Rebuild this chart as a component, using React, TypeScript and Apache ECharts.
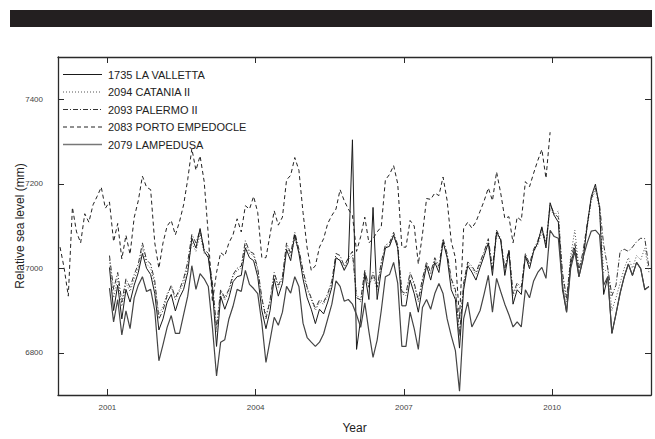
import { useEffect, useRef } from "react";
import * as echarts from "echarts";

const xTicks = [2001, 2004, 2007, 2010];
const yTicks = [6800, 7000, 7200, 7400];

const names = [
  "1735 LA VALLETTA",
  "2094 CATANIA II",
  "2093 PALERMO II",
  "2083 PORTO EMPEDOCLE",
  "2079 LAMPEDUSA",
];

// monthly series, first value = January of start year
const portoStart = 2000;
const porto = [
  7050, 7000, 6934, 7144, 7086, 7060, 7129, 7109, 7150, 7170, 7192, 7142,
  7157, 7063, 7106, 7022, 7078, 7033, 7120, 7160, 7218, 7192, 7186, 7060,
  7000, 7060, 7100, 7113, 7079, 7110, 7150, 7210, 7283, 7232, 7266, 7205,
  7079, 6920, 6990, 7037, 7029, 7060, 7079, 7117, 7086, 7148, 7140, 7170,
  7132, 7025, 7025, 7080, 7136, 7102, 7121, 7209, 7220, 7262, 7232, 7132,
  7048, 6995, 7006, 7050, 7070, 7106, 7125, 7140, 7186, 7160, 7140, 7125,
  7040, 7075, 7121, 7060, 7070, 7086, 7098, 7209, 7222, 7243, 7200, 7050,
  7050, 7113, 7100, 7010, 7080, 7165, 7163, 7178, 7172, 7216, 7160, 7063,
  7025, 6880, 7094, 7109, 7095, 7110, 7135, 7160, 7190, 7160, 7228, 7178,
  7118, 7122, 7060, 7121, 7113, 7205, 7193, 7225, 7255, 7281, 7213, 7322,
];

const clusterStart = 2001;
const valletta = [
  7002, 6900, 6960, 6880, 6950, 6920, 6960, 6990, 7035, 7000, 6985, 6940,
  6854, 6880, 6920, 6938, 6899, 6930, 6950, 6990, 7071, 7048, 7094, 7040,
  7025, 6950, 6815, 6934, 6903, 6930, 6968, 6980, 6983, 7048, 7025, 7018,
  6980, 6900, 6857, 6900, 6975, 6934, 6964, 7044, 7018, 7079, 7035, 6975,
  6930, 6903, 6869, 6903, 6892, 6920, 6955, 7025, 7018, 6995, 7014, 7304,
  6808, 6880, 6987, 6926, 7144, 6926, 6995, 7048, 7052, 7079, 7048, 6911,
  6911, 6972, 6940, 6896, 6957, 7006, 6972, 7014, 6990, 7063, 7025, 6949,
  6926, 6811, 6949, 7006, 6991, 6972, 7002, 7030, 7060, 6983, 7086, 7067,
  6983, 7040, 6915, 6949, 6938, 7029, 6999, 7040, 7060, 7098, 7048, 7155,
  7125, 7109, 6949, 6896, 7010, 7048, 6980, 7020, 7100, 7170, 7199, 7144,
  6938, 6980, 6846, 6892, 6941, 6980, 7010, 6983, 7014, 6999, 6950, 6957,
];
const catania = [
  7020, 6930, 6975, 6910, 6965, 6945, 6975, 7000, 7050, 7010, 7000, 6960,
  6890, 6910, 6940, 6955, 6925, 6945, 6965, 7005, 7060, 7040, 7080, 7035,
  7030, 6960, 6850, 6945, 6925, 6945, 6980, 6995, 7000, 7055, 7035, 7030,
  6995, 6925, 6890, 6920, 6985, 6955, 6975, 7050, 7030, 7070, 7040, 6990,
  6950, 6925, 6900, 6920, 6915, 6935, 6965, 7025, 7020, 7000, 7020, 7030,
  6940, 6920, 6990, 6960, 6980, 6950, 7010, 7050, 7055, 7075, 7050, 6940,
  6935, 6985, 6960, 6920, 6970, 7010, 6985, 7020, 7000, 7060, 7030, 6970,
  6945, 6850, 6960, 7010, 7000, 6985, 7010, 7035, 7060, 6995, 7080, 7065,
  6995, 7040, 6935, 6960, 6950, 7030, 7005, 7040, 7055, 7085, 7055, 7140,
  7125, 7136, 6980, 6920, 7030, 7090, 7000, 7030, 7095, 7160, 7185, 7140,
  6990, 7000, 6900, 6930, 6965, 7000, 7025, 7000, 7030, 7020, 7048, 6990,
];
const palermo = [
  7030, 6950, 6990, 6920, 6975, 6955, 6985, 7010, 7060, 7020, 7010, 6970,
  6880, 6900, 6935, 6960, 6930, 6950, 6975, 7015, 7080, 7060, 7090, 7045,
  7035, 6965, 6860, 6950, 6930, 6950, 6985, 7000, 7005, 7065, 7040, 7035,
  7000, 6930, 6880, 6925, 6990, 6960, 6980, 7060, 7035, 7085, 7045, 6995,
  6955, 6930, 6905, 6925, 6920, 6940, 6970, 7035, 7030, 7005, 7025, 7040,
  6930, 6925, 6995, 6955, 6990, 6955, 7015, 7055, 7060, 7085, 7055, 6945,
  6940, 6990, 6965, 6925, 6975, 7015, 6990, 7025, 7005, 7070, 7035, 6975,
  6950, 6840, 6965, 7015, 7005, 6990, 7015, 7040, 7070, 7000, 7090, 7070,
  7000, 7045, 6940, 6965, 6955, 7035, 7010, 7045, 7065, 7095, 7060, 7150,
  7130, 7120, 6990, 6930, 7020, 7060, 6995, 7040, 7105, 7165, 7190, 7150,
  7056, 7000, 6935, 6960, 7040, 7045, 7040, 7050, 7063, 7071, 7070, 7002,
];
const lampedusa = [
  6953, 6873, 6926, 6842, 6899, 6857, 6930, 6960, 6980, 6945, 6950, 6900,
  6781, 6819, 6860, 6888, 6846, 6846, 6890, 6934, 7006, 6950, 6987, 6975,
  6957, 6860, 6745, 6825, 6831, 6880, 6910, 6950, 6945, 6995, 6962, 6952,
  6940, 6870, 6777, 6830, 6884, 6865, 6896, 6957, 6941, 6980, 6957, 6870,
  6836, 6825, 6815, 6825, 6845, 6880, 6915, 6970, 6957, 6922, 6926, 6915,
  6890, 6860, 6918, 6850, 6789, 6830, 6900, 6980, 6985, 7014, 6964, 6815,
  6815, 6896, 6857, 6808, 6907, 6926, 6903, 6940, 6964, 6940, 6880, 6840,
  6805, 6709, 6880, 6920, 6861, 6880, 6900, 6940, 6983, 6896, 6976, 6945,
  6915, 6890, 6861, 6873, 6861, 6949, 6930, 6970, 6990, 7002, 6976, 7090,
  7075, 7071, 6960, 6896, 7000, 7040, 6980, 7025, 7060, 7088, 7090, 7079,
  6960, 6980, 6846, 6892, 6941, 6980, 7010, 6983, 7014, 6999, 6949, 6957,
];

function monthly(start: number, values: number[]) {
  return values.map((v, i) => [start + (i + 0.5) / 12, v]);
}

const FONT = "'Liberation Sans', Arial, Helvetica, sans-serif";

const styles = [
  { dash: null as number[] | null, color: "#1a1a1a", width: 1 },
  { dash: [1, 2], color: "#555", width: 1 },
  { dash: [5, 2, 1, 2], color: "#333", width: 1 },
  { dash: [4, 3], color: "#222", width: 1 },
  { dash: null as number[] | null, color: "#444", width: 1.2 },
];
const seriesData = [
  { start: clusterStart, values: valletta, z: 5 },
  { start: clusterStart, values: catania, z: 3 },
  { start: clusterStart, values: palermo, z: 4 },
  { start: portoStart, values: porto, z: 2 },
  { start: clusterStart, values: lampedusa, z: 6 },
];

export default function App() {
  const ref = useRef<HTMLDivElement>(null);
  useEffect(() => {
    if (!ref.current) return;
    const chart = echarts.init(ref.current, undefined, { renderer: "svg" });
    const axisLine = { show: true, onZero: false, lineStyle: { color: "#2a2a2a", width: 1.3 } };
    const tickStyle = { color: "#2a2a2a", width: 1 };
    const fmt = (v: number) => String(v);

    const legendGraphics: any[] = [];
    names.forEach((n, i) => {
      const yc = 74.5 + i * 17.5;
      const s = styles[i];
      legendGraphics.push({
        type: "line",
        shape: { x1: 63, y1: yc, x2: 102, y2: yc },
        style: {
          stroke: i === 4 ? "#777" : s.color,
          lineWidth: i === 4 ? 1.6 : 1,
          lineDash: s.dash || undefined,
        },
        silent: true,
        z: 10,
      });
      legendGraphics.push({
        type: "text",
        x: 108,
        y: yc,
        style: {
          text: n,
          fill: "#222",
          fontSize: 11,
          fontFamily: FONT,
          verticalAlign: "middle",
          align: "left",
        },
        silent: true,
        z: 10,
      });
    });

    chart.setOption({
      animation: false,
      backgroundColor: "#ffffff",
      textStyle: { fontFamily: FONT },
      grid: { left: 58, top: 57, right: 4, bottom: 34, containLabel: false },
      graphic: [
        {
          type: "rect",
          shape: { x: 10, y: 10, width: 642, height: 17 },
          style: { fill: "#231f20" },
          silent: true,
        },
        ...legendGraphics,
      ],
      xAxis: [
        {
          type: "value",
          min: 2000,
          max: 2012,
          position: "bottom",
          axisLine,
          axisTick: { inside: true, length: 6, customValues: xTicks, lineStyle: tickStyle },
          axisLabel: { customValues: xTicks, formatter: fmt, fontSize: 8, color: "#444", margin: 8, fontFamily: FONT },
          splitLine: { show: false },
          name: "Year",
          nameLocation: "middle",
          nameGap: 27,
          nameMoveOverlap: false,
          nameTextStyle: { fontSize: 12, color: "#222", fontFamily: FONT },
        },
        {
          type: "value",
          min: 2000,
          max: 2012,
          position: "top",
          axisLine,
          axisTick: { inside: true, length: 6, customValues: xTicks, lineStyle: tickStyle },
          axisLabel: { show: false, customValues: xTicks },
          splitLine: { show: false },
        },
      ],
      yAxis: [
        {
          type: "value",
          min: 6700,
          max: 7500,
          position: "left",
          axisLine,
          axisTick: { inside: true, length: 6, customValues: yTicks, lineStyle: tickStyle },
          axisLabel: { customValues: yTicks, formatter: fmt, fontSize: 8, color: "#444", margin: 15, fontFamily: FONT },
          splitLine: { show: false },
          name: "Relative sea level (mm)",
          nameLocation: "middle",
          nameGap: 32,
          nameMoveOverlap: false,
          nameTextStyle: { fontSize: 12, color: "#222", fontFamily: FONT },
        },
        {
          type: "value",
          min: 6700,
          max: 7500,
          position: "right",
          axisLine,
          axisTick: { inside: true, length: 6, customValues: yTicks, lineStyle: tickStyle },
          axisLabel: { show: false, customValues: yTicks },
          splitLine: { show: false },
        },
      ],
      series: names.map((n, i) => ({
        name: n,
        type: "line",
        data: monthly(seriesData[i].start, seriesData[i].values),
        showSymbol: false,
        symbol: "none",
        z: seriesData[i].z,
        lineStyle: {
          color: styles[i].color,
          width: styles[i].width,
          type: styles[i].dash ? styles[i].dash : "solid",
        },
        itemStyle: { color: styles[i].color },
      })),
    });
    return () => chart.dispose();
  }, []);
  return (
    <div
      ref={ref}
      style={{ position: "fixed", left: 0, top: 0, width: 655, height: 439, background: "#fff" }}
    />
  );
}
